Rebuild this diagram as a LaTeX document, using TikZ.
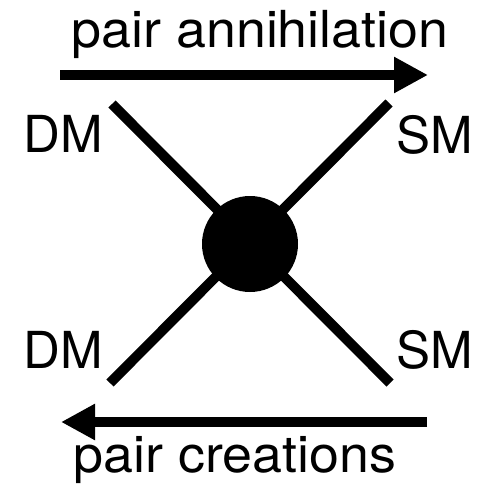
\documentclass[tikz,border=0pt]{standalone}
\usepackage{fontspec}
\setmainfont{TeX Gyre Heros}
\newfontfamily\capfont[FakeStretch=1.055]{TeX Gyre Heros}
\usetikzlibrary{arrows.meta}
\tikzset{
  lbl/.style={anchor=base, inner sep=0pt, font=\fontsize{51}{60}\selectfont},
  caption/.style={anchor=base, inner sep=0pt, font=\capfont\fontsize{51}{60}\selectfont},
  leg/.style={line width=10pt, line cap=butt},
  flow/.style={line width=10pt, -{Triangle[length=34pt, width=34pt]}},
  blob/.style={circle, fill=black, draw=none, minimum size=96pt, inner sep=0pt}
}
\begin{document}
\begin{tikzpicture}[x=1pt, y=-1pt]
  \useasboundingbox (0,0) rectangle (482,486);

  % process labels and direction arrows
  \node[caption] (ann) at (260,48) {pair annihilation};
  \coordinate (a1) at (60,75);
  \coordinate (a2) at (428,75);
  \draw[flow] (a1) -- (a2);

  \coordinate (c1) at (427,422);
  \coordinate (c2) at (61,422);
  \draw[flow] (c1) -- (c2);
  \node[caption] (cre) at (235,472) {pair creations};

  % external legs of the four-point vertex
  \coordinate (ul) at (112,104);
  \coordinate (lr) at (390,383);
  \coordinate (ur) at (389,103);
  \coordinate (ll) at (110,383);
  \draw[leg] (ul) -- (lr);
  \draw[leg] (ur) -- (ll);

  % effective interaction vertex
  \node[blob] (v) at (250,244) {};

  % particle labels
  \node[lbl] (dm1) at (63.5,153) {DM};
  \node[lbl] (dm2) at (63.5,368) {DM};
  \node[lbl] (sm1) at (435,154) {SM};
  \node[lbl] (sm2) at (435,368) {SM};
\end{tikzpicture}
\end{document}
